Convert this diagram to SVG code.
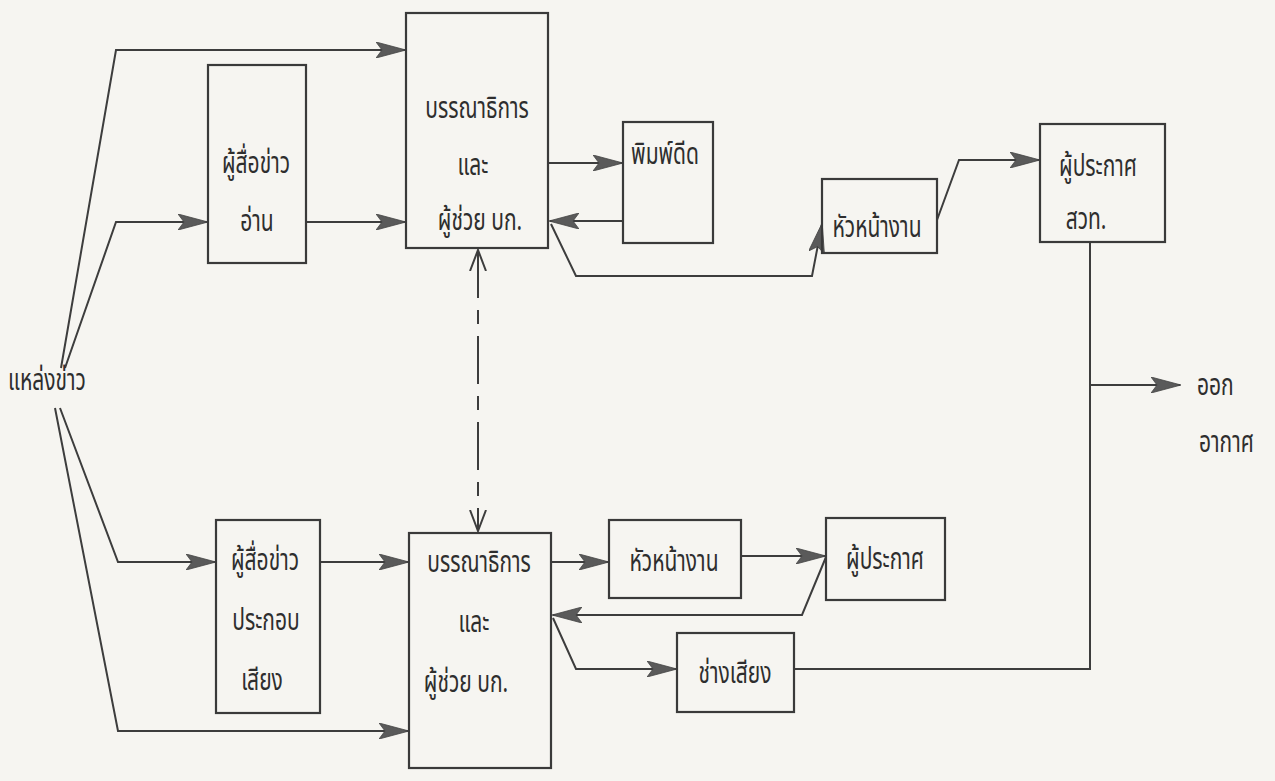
<svg xmlns="http://www.w3.org/2000/svg" width="1275" height="781" viewBox="0 0 1275 781">
<defs>
<style>
.bg{fill:#f6f5f1}
.box{fill:none;stroke:#3a3a3a;stroke-width:2.2}
.ln{fill:none;stroke:#3d3d3d;stroke-width:2}
.dash{fill:none;stroke:#3d3d3d;stroke-width:2;stroke-dasharray:48 12 14 12}
.t{font-family:"Noto Sans Thai","Noto Sans","DejaVu Sans",sans-serif;font-size:21px;fill:#2e2e2e}
.c{text-anchor:middle}
</style>
<marker id="ah" viewBox="0 0 30 16" refX="29" refY="8" markerWidth="30" markerHeight="16" markerUnits="userSpaceOnUse" orient="auto">
<path d="M0,0 L30,8 L0,16 L6,8 Z" fill="#5a5a5a" stroke="#444" stroke-width="0.8"/>
</marker>
<marker id="av" viewBox="0 0 22 18" refX="21" refY="9" markerWidth="22" markerHeight="18" markerUnits="userSpaceOnUse" orient="auto-start-reverse">
<path d="M0,1 L21,9 L0,17" fill="none" stroke="#3d3d3d" stroke-width="2"/>
</marker>
</defs>
<rect class="bg" x="0" y="0" width="1275" height="781"/>

<g id="connectors">
<polyline class="ln" points="61,368 116,50 405,50" marker-end="url(#ah)"/>
<polyline class="ln" points="65,368 116,222 207,222" marker-end="url(#ah)"/>
<line class="ln" x1="306" y1="222" x2="405" y2="222" marker-end="url(#ah)"/>
<line class="ln" x1="548" y1="163" x2="622" y2="163" marker-end="url(#ah)"/>
<line class="ln" x1="623" y1="221" x2="550" y2="221" marker-end="url(#ah)"/>
<polyline class="ln" points="551,224 576,276 812,276 822,224" marker-end="url(#ah)"/>
<polyline class="ln" points="937,220 959,160 1039,160" marker-end="url(#ah)"/>
<polyline class="ln" points="1090,242 1090,669 794,669"/>
<line class="ln" x1="1090" y1="385" x2="1180" y2="385" marker-end="url(#ah)"/>
<line class="dash" x1="478" y1="250" x2="478" y2="531" marker-start="url(#av)" marker-end="url(#av)"/>
<polyline class="ln" points="60,408 118,562 215,562" marker-end="url(#ah)"/>
<polyline class="ln" points="55,408 118,731 408,731" marker-end="url(#ah)"/>
<line class="ln" x1="320" y1="562" x2="408" y2="562" marker-end="url(#ah)"/>
<line class="ln" x1="551" y1="562" x2="608" y2="562" marker-end="url(#ah)"/>
<line class="ln" x1="741" y1="556" x2="825" y2="556" marker-end="url(#ah)"/>
<polyline class="ln" points="826,557 802,615 553,615" marker-end="url(#ah)"/>
<polyline class="ln" points="553,618 576,669 676,669" marker-end="url(#ah)"/>
</g>

<g id="source"><text class="t" transform="translate(8 390) scale(1 1.4)">แหล่งข่าว</text></g>

<g id="reporter-read">
<rect class="box" x="208" y="65" width="98" height="198"/>
<text class="t c" transform="translate(256 173) scale(1 1.4)">ผู้สื่อข่าว</text>
<text class="t c" transform="translate(257 231) scale(1 1.4)">อ่าน</text>
</g>

<g id="editor-top">
<rect class="box" x="406" y="13" width="142" height="235"/>
<text class="t c" transform="translate(477 118) scale(1 1.4)">บรรณาธิการ</text>
<text class="t c" transform="translate(473 175) scale(1 1.4)">และ</text>
<text class="t c" transform="translate(480 230) scale(1 1.4)">ผู้ช่วย บก.</text>
</g>

<g id="typist">
<rect class="box" x="623" y="122" width="90" height="121"/>
<text class="t c" transform="translate(665 164) scale(1 1.4)">พิมพ์ดีด</text>
</g>

<g id="supervisor-top">
<rect class="box" x="822" y="179" width="115" height="74"/>
<text class="t c" transform="translate(877 237) scale(1 1.4)">หัวหน้างาน</text>
</g>

<g id="announcer-top">
<rect class="box" x="1040" y="124" width="125" height="118"/>
<text class="t c" transform="translate(1098 176) scale(1 1.4)">ผู้ประกาศ</text>
<text class="t c" transform="translate(1086 229) scale(1 1.4)">สวท.</text>
</g>

<g id="onair">
<text class="t" transform="translate(1197 395) scale(1 1.4)">ออก</text>
<text class="t" transform="translate(1199 452) scale(1 1.4)">อากาศ</text>
</g>

<g id="reporter-sound">
<rect class="box" x="216" y="520" width="104" height="193"/>
<text class="t c" transform="translate(265 570) scale(1 1.4)">ผู้สื่อข่าว</text>
<text class="t c" transform="translate(266 630) scale(1 1.4)">ประกอบ</text>
<text class="t c" transform="translate(262 690) scale(1 1.4)">เสียง</text>
</g>

<g id="editor-bottom">
<rect class="box" x="409" y="533" width="142" height="235"/>
<text class="t c" transform="translate(479 572) scale(1 1.4)">บรรณาธิการ</text>
<text class="t c" transform="translate(474 632) scale(1 1.4)">และ</text>
<text class="t c" transform="translate(466 692) scale(1 1.4)">ผู้ช่วย บก.</text>
</g>

<g id="supervisor-bottom">
<rect class="box" x="609" y="520" width="132" height="78"/>
<text class="t c" transform="translate(674 571) scale(1 1.4)">หัวหน้างาน</text>
</g>

<g id="announcer-bottom">
<rect class="box" x="826" y="518" width="119" height="82"/>
<text class="t c" transform="translate(885 569) scale(1 1.4)">ผู้ประกาศ</text>
</g>

<g id="sound-engineer">
<rect class="box" x="677" y="633" width="117" height="79"/>
<text class="t c" transform="translate(735 683) scale(1 1.4)">ช่างเสียง</text>
</g>
</svg>
